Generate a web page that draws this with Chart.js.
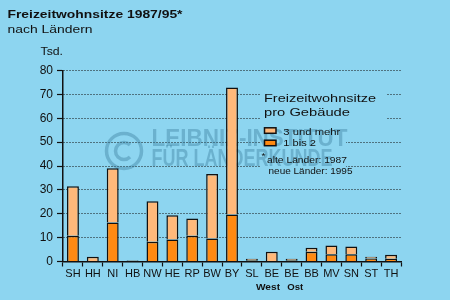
<!DOCTYPE html>
<html>
<head>
<meta charset="utf-8">
<script src="https://cdn.jsdelivr.net/npm/chart.js@4/dist/chart.umd.min.js"></script>
<style>
  html, body { margin: 0; padding: 0; background: #8dd5f0; }
  #wrap { width: 450px; height: 300px; }
</style>
</head>
<body>
<div id="wrap"><canvas id="c" width="450" height="300"></canvas></div>
<script>
/* Freizeitwohnsitze 1987/95 nach Ländern (Tsd.) */

const laender = ['SH', 'HH', 'NI', 'HB', 'NW', 'HE', 'RP', 'BW', 'BY', 'SL', 'BE', 'BE', 'BB', 'MV', 'SN', 'ST', 'TH'];
const einBisZwei = [10.8, 0, 16.3, 0.3, 8.3, 9.2, 10.8, 9.6, 19.7, 0.5, 0, 0.5, 4.1, 3.0, 3.0, 1.3, 1.1];
const dreiUndMehr = [20.7, 2.0, 22.8, 0.2, 16.9, 10.2, 7.2, 27.0, 53.2, 0.7, 4.1, 0.7, 1.7, 3.7, 3.3, 0.7, 1.7];
const yTicks = [0, 10, 20, 30, 40, 50, 60, 70, 80];

const seriesLabels = ['3 und mehr', '1 bis 2'];
const titleText = 'Freizeitwohnsitze 1987/95*';
const subtitleText = 'nach Ländern';
const unitText = 'Tsd.';
const legendTitle = ['Freizeitwohnsitze', 'pro Gebäude'];
const footnote = ['alte Länder: 1987', 'neue Länder: 1995'];
const beLabels = ['West', 'Ost'];
const watermark = ['LEIBNIZ-INSTITUT', 'FÜR LÄNDERKUNDE'];

const BG = '#8dd5f0';
const DARK = '#ff8a12';
const LIGHT = '#ffb97a';
const FONT = "'Liberation Sans', Arial, sans-serif";

Chart.defaults.font.family = FONT;
Chart.defaults.color = '#111';

// draw text stretched to a measured width
function fitText(ctx, text, x, y, w, font, color) {
  ctx.save();
  ctx.font = font;
  ctx.fillStyle = color || '#111';
  ctx.textBaseline = 'alphabetic';
  ctx.textAlign = 'left';
  const m = ctx.measureText(text).width;
  ctx.translate(x, y);
  ctx.scale(w / m, 1);
  ctx.fillText(text, 0, 0);
  ctx.restore();
}

const decor = {
  id: 'decor',
  beforeDraw(chart) {
    const ctx = chart.ctx;
    ctx.save();
    ctx.fillStyle = BG;
    ctx.fillRect(0, 0, chart.width, chart.height);
    ctx.restore();
  },
  beforeDatasetsDraw(chart) {
    const ctx = chart.ctx;
    // legend area hides the dotted grid
    ctx.save();
    ctx.fillStyle = BG;
    ctx.fillRect(260, 86, 126, 34);
    ctx.fillRect(260, 120, 86, 58);
    ctx.restore();

    // watermark
    const wm = 'rgba(60,128,160,0.42)';
    ctx.save();
    ctx.strokeStyle = wm;
    ctx.lineWidth = 3.5;
    ctx.beginPath();
    ctx.arc(124, 151, 17.5, 0, Math.PI * 2);
    ctx.stroke();
    ctx.beginPath();
    ctx.arc(124, 151, 8.5, Math.PI * 0.25, Math.PI * 1.75);
    ctx.stroke();
    ctx.restore();
    fitText(ctx, watermark[0], 151.5, 145.5, 196, "bold 23px " + FONT, wm);
    fitText(ctx, watermark[1], 151.5, 166, 181, "bold 23px " + FONT, wm);
  },
  afterDraw(chart) {
    const ctx = chart.ctx;
    fitText(ctx, titleText, 7.5, 17.5, 175, "bold 11.5px " + FONT, '#111');
    fitText(ctx, subtitleText, 7.5, 33, 85, "11.5px " + FONT, '#111');
    fitText(ctx, unitText, 40.5, 55, 22.5, "11.5px " + FONT, '#111');

    fitText(ctx, legendTitle[0], 264, 101.5, 112, "11.5px " + FONT, '#111');
    fitText(ctx, legendTitle[1], 264, 116, 86, "11.5px " + FONT, '#111');

    const sw = [[LIGHT, 127.8], [DARK, 140.2]];
    ctx.save();
    ctx.lineWidth = 1.5;
    ctx.strokeStyle = '#111';
    sw.forEach(([col, y]) => {
      ctx.fillStyle = col;
      ctx.fillRect(264.5, y, 11.5, 5.5);
      ctx.strokeRect(264.5, y, 11.5, 5.5);
    });
    ctx.restore();
    fitText(ctx, seriesLabels[0], 283.3, 135, 57, "9.5px " + FONT, '#111');
    fitText(ctx, seriesLabels[1], 283.3, 145.7, 32.7, "9.5px " + FONT, '#111');

    fitText(ctx, '*', 261.5, 158.5, 4, "9px " + FONT, '#111');
    fitText(ctx, footnote[0], 267, 163.3, 80, "9px " + FONT, '#111');
    fitText(ctx, footnote[1], 268.5, 174, 84, "9px " + FONT, '#111');

    fitText(ctx, beLabels[0], 256, 290, 24, "bold 9.5px " + FONT, '#111');
    fitText(ctx, beLabels[1], 287.3, 290, 16, "bold 9.5px " + FONT, '#111');
  }
};

new Chart(document.getElementById('c'), {
  type: 'bar',
  data: {
    labels: laender,
    datasets: [
      {
        label: seriesLabels[1],
        data: einBisZwei,
        backgroundColor: DARK,
        borderColor: '#111',
        borderWidth: 1.5,
        barPercentage: 0.6,
        categoryPercentage: 1
      },
      {
        label: seriesLabels[0],
        data: dreiUndMehr,
        backgroundColor: LIGHT,
        borderColor: '#111',
        borderWidth: 1.5,
        barPercentage: 0.6,
        categoryPercentage: 1
      }
    ]
  },
  options: {
    responsive: false,
    animation: false,
    devicePixelRatio: 1,
    layout: { padding: { top: 70.5, right: 49, left: 0, bottom: 0 } },
    plugins: {
      legend: { display: false },
      tooltip: { enabled: false }
    },
    scales: {
      x: {
        stacked: true,
        offset: true,
        grid: {
          display: true,
          offset: true,
          drawOnChartArea: false,
          drawTicks: true,
          tickLength: 5,
          tickColor: '#111',
          tickWidth: 1.2,
          color: '#111'
        },
        border: { display: true, color: '#111', width: 1.5 },
        ticks: {
          color: '#111',
          font: { size: 11, family: FONT },
          padding: 1,
          maxRotation: 0,
          autoSkip: false
        },
        afterFit(scale) { scale.height = 38.5; }
      },
      y: {
        stacked: true,
        min: yTicks[0],
        max: yTicks[yTicks.length - 1],
        afterBuildTicks(scale) { scale.ticks = yTicks.map(v => ({ value: v })); },
        grid: {
          color: ctx => (ctx.tick && ctx.tick.value === 0) ? 'rgba(0,0,0,0)' : '#111',
          lineWidth: 1,
          drawTicks: true,
          tickLength: 6,
          tickColor: '#111',
          tickWidth: 1.2,
          tickBorderDash: []
        },
        border: { display: true, color: '#111', width: 1.5, dash: [1, 2] },
        ticks: {
          color: '#111',
          font: { size: 12, family: FONT },
          padding: 4
        },
        afterFit(scale) { scale.width = 63; }
      }
    }
  },
  plugins: [decor]
});
</script>
</body>
</html>
